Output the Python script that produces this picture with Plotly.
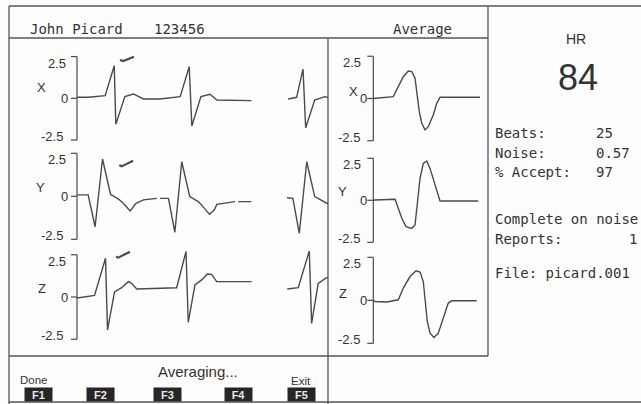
import plotly.graph_objects as go

# ---------------- data ----------------
LEADS = ["X", "Y", "Z"]
TICK_VALS = [-2.5, 0, 2.5]
TICK_TEXT = ["-2.5", "0", "2.5"]

# rhythm strips (time in ms, amplitude in mV)
STRIP_X_T = [0, 105, 265, 350, 365, 450, 530, 575, 625, 780, 970, 1055, 1080, 1165, 1250, 1315, 1640,
             None, 1985, 2065, 2125, 2150, 2235, 2330, 2380]
STRIP_X_V = [0.06, 0.06, 0.16, 1.95, -1.56, 0.10, 0.26, 0.10, -0.04, -0.04, 0.10, 1.89, -1.66, 0.10, 0.24, -0.10, -0.14,
             None, -0.04, 0.06, 1.75, -1.76, -0.10, 0.10, 0.02]

STRIP_Y_T = [0, 105, 170, 240, 315, 390, 435, 500, 555, 625, 750, None, 780, 860, 920, 985, 1060, 1140, 1185,
             1245, 1290, 1315, 1485, None, 1515, 1640, None, 1975, 2030, 2090, 2160, 2235, 2315, 2380]
STRIP_Y_V = [0.08, 0.08, -1.77, 2.17, 0.12, -0.16, -0.41, -0.85, -0.41, -0.21, -0.12, None, -0.12, -0.12, -2.09,
             2.01, -0.02, -0.31, -0.60, -1.05, -0.80, -0.47, -0.31, None, -0.31, -0.31, None, -0.08, -0.12, -2.15,
             2.01, -0.02, -0.31, -0.51]

STRIP_Z_T = [0, 165, 268, 287, 353, 420, 482, 514, 561, 905, 937, 1025, 1046, 1109, 1172, 1225, 1266, 1313, 1642,
             None, 1977, 2080, 2184, 2206, 2268, 2347, 2380]
STRIP_Z_V = [-0.06, 0.09, 2.29, -1.95, 0.30, 0.55, 0.91, 0.81, 0.47, 0.51, 0.55, 2.69, -1.50, 0.71, 1.01, 1.36,
             1.34, 0.91, 0.91, None, 0.47, 0.55, 2.72, -1.56, 0.81, 1.14, 1.18]

# beat detection marks
CHECK_X_T = [404, 435, 536]
CHECK_X_V = [2.29, 2.23, 2.49]
CHECK_Y_T = [398, 419, 528]
CHECK_Y_V = [1.82, 1.74, 2.07]
CHECK_Z_T = [367, 388, 498]
CHECK_Z_V = [2.38, 2.33, 2.68]

# averaged beats (time in ms)
AVG_X_T = [0, 7, 40, 80, 100, 120, 140, 154, 167, 176, 184, 194, 207, 220, 240, 254, 267, 427]
AVG_X_V = [0.0, 0.01, 0.05, 0.11, 0.70, 1.29, 1.63, 1.59, 1.20, 0.21, -0.78, -1.47, -1.86, -1.67, -0.98, -0.28,
           0.07, 0.07]
AVG_Y_T = [0, 7, 87, 100, 114, 131, 154, 167, 176, 187, 200, 214, 227, 247, 267, 420]
AVG_Y_V = [0.0, 0.02, 0.06, -0.48, -1.07, -1.57, -1.67, -1.47, -0.28, 1.31, 2.20, 2.34, 1.90, 0.91, -0.04, -0.04]
AVG_Z_T = [0, 7, 54, 100, 120, 147, 171, 187, 200, 210, 216, 227, 243, 260, 280, 300, 314, 414]
AVG_Z_V = [0.0, -0.07, -0.10, 0.03, 0.71, 1.38, 1.72, 1.64, 1.09, -0.26, -1.23, -1.91, -2.16, -1.91, -1.03, -0.16,
           -0.03, -0.03]

PATIENT = "John Picard"
PATIENT_ID = "123456"
HR = "84"
STATS_LABELS = ["Beats:", "Noise:", "% Accept:"]
STATS_VALUES = ["25", "0.57", "97"]
FKEYS = ["F1", "F2", "F3", "F4", "F5"]

# ---------------- layout helpers ----------------
W, H = 641, 404
def px(x): return x / W
def py(y): return 1 - y / H

LINE = "#4a4a4a"
TEXT = "#333333"
MONO = "DejaVu Sans Mono"
SANS = "Liberation Sans, Arial, sans-serif"

strips = [(STRIP_X_T, STRIP_X_V), (STRIP_Y_T, STRIP_Y_V), (STRIP_Z_T, STRIP_Z_V)]
checks = [(CHECK_X_T, CHECK_X_V), (CHECK_Y_T, CHECK_Y_V), (CHECK_Z_T, CHECK_Z_V)]
avgs = [(AVG_X_T, AVG_X_V), (AVG_Y_T, AVG_Y_V), (AVG_Z_T, AVG_Z_V)]

# geometry: (zero line y px, px per unit, top of range)
STRIP_GEOM = [(98.3, 16.7, 2.8), (196.3, 17.2, 2.6), (297.0, 16.9, 3.1)]
AVG_GEOM = [(98.5, 16.9, 2.5), (200.3, 16.8, 2.5), (300.3, 17.2, 2.5)]
STRIP_LABEL_POS = [(41.7, 88), (40.5, 187), (41.7, 288)]
AVG_LABEL_POS = [(353, 92), (342.7, 191.7), (343.3, 293.3)]

fig = go.Figure()
layout = dict(width=W, height=H, margin=dict(l=0, r=0, t=0, b=0), showlegend=False,
              paper_bgcolor="#fdfdfd", plot_bgcolor="rgba(0,0,0,0)")
shapes, annotations = [], []

lo, hi = min(TICK_VALS), max(TICK_VALS)

def seg(x0, y0, x1, y1, color=LINE, width=1.3):
    shapes.append(dict(type="line", xref="paper", yref="paper", x0=px(x0), x1=px(x1), y0=py(y0), y1=py(y1),
                       line=dict(color=color, width=width)))

def add_panel(idx, lead, data, geom, xdom_px, xrange, label_pos, shifts, extra=None):
    c, s, top = geom
    suf = "" if idx == 1 else str(idx)
    xa, ya = f"xaxis{suf}", f"yaxis{suf}"
    xr, yr = f"x{suf}", f"y{suf}"
    layout[xa] = dict(domain=[px(xdom_px[0]), px(xdom_px[1])], range=xrange, visible=False,
                      fixedrange=True, anchor=yr)
    layout[ya] = dict(domain=[py(c - lo * s), py(c - top * s)], range=[lo, top], anchor=xr,
                      showline=False, showgrid=False, zeroline=False, ticks="",
                      showticklabels=False, fixedrange=True)
    fig.add_trace(go.Scatter(x=data[0], y=data[1], mode="lines", xaxis=xr, yaxis=yr,
                             line=dict(color=LINE, width=1.4), connectgaps=False, hoverinfo="skip"))
    if extra is not None:
        fig.add_trace(go.Scatter(x=extra[0], y=extra[1], mode="lines", xaxis=xr, yaxis=yr,
                                 line=dict(color=LINE, width=2.2), hoverinfo="skip"))
    # bracket-shaped amplitude axis
    xa_px = xdom_px[0]
    seg(xa_px, c - hi * s, xa_px, c - lo * s, width=1.2)
    for v in TICK_VALS:
        seg(xa_px - 6, c - v * s, xa_px, c - v * s, width=1.2)
    for v, t, sh in zip(TICK_VALS, TICK_TEXT, shifts):
        ysh = -6.5 if v == hi else (3.5 if v == lo else 0)
        annotations.append(dict(x=0, xref=f"{xr} domain", y=v, yref=yr, text=t, showarrow=False,
                                xanchor="right", yanchor="middle", xshift=sh, yshift=ysh, borderpad=0,
                                font=dict(family=SANS, size=13, color=TEXT)))
    annotations.append(dict(x=px(label_pos[0]), y=py(label_pos[1]), xref="paper", yref="paper",
                            text=lead, showarrow=False, xanchor="center", yanchor="middle",
                            font=dict(family=SANS, size=13, color=TEXT)))

for i in range(3):
    add_panel(i + 1, LEADS[i], strips[i], STRIP_GEOM[i], (77, 328), [0, 2360],
              STRIP_LABEL_POS[i], [-13, -8, -10], extra=checks[i])
for i in range(3):
    add_panel(i + 4, LEADS[i], avgs[i], AVG_GEOM[i], (373.3, 486), [0, 451],
              AVG_LABEL_POS[i], [-12, -5, -11])

# frame lines
FRAME = "#555555"
seg(9, 6, 641, 6, FRAME)
seg(9, 38, 488, 38, FRAME)
seg(9, 356, 488, 356, FRAME)
seg(9, 402, 641, 402, FRAME)
seg(9, 6, 9, 404, FRAME)
seg(488, 6, 488, 356, FRAME)
seg(328, 38, 328, 404, FRAME)

def text(x, y, s, size, family=MONO, xanchor="left", color=TEXT):
    annotations.append(dict(x=px(x), y=py(y), xref="paper", yref="paper", text=s, showarrow=False,
                            xanchor=xanchor, yanchor="middle", borderpad=0,
                            font=dict(family=family, size=size, color=color)))

text(29, 29, PATIENT, 14)
text(153, 29, PATIENT_ID, 14)
text(392, 29, "Average", 14)
text(576, 39, "HR", 14, SANS, "center")
text(578, 77.5, HR, 36, SANS, "center")
for lab, val, y in zip(STATS_LABELS, STATS_VALUES, [133, 153, 172]):
    text(494, y, lab, 14)
    text(595, y, val, 14)
text(494, 219, "Complete on noise", 14)
text(494, 239, "Reports:", 14)
text(633, 239, "1", 14, MONO, "center")
text(494, 273, "File: picard.001", 14)

text(197.5, 371.5, "Averaging...", 15, SANS, "center")
text(34, 379.5, "Done", 11.5, SANS, "center")
text(301, 381, "Exit", 11.5, SANS, "center")

FKEY_X = [38, 100, 167, 238, 301]
for k, xc in zip(FKEYS, FKEY_X):
    annotations.append(dict(x=px(xc), y=py(394.5), xref="paper", yref="paper", text=f"<b>{k}</b>",
                            showarrow=False, xanchor="center", yanchor="middle", width=27, height=13,
                            bgcolor="#262626", borderpad=0,
                            font=dict(family=SANS, size=11, color="#e8e8e8")))

layout["shapes"] = shapes
layout["annotations"] = annotations
fig.update_layout(**layout)
fig.write_html("out.html")
